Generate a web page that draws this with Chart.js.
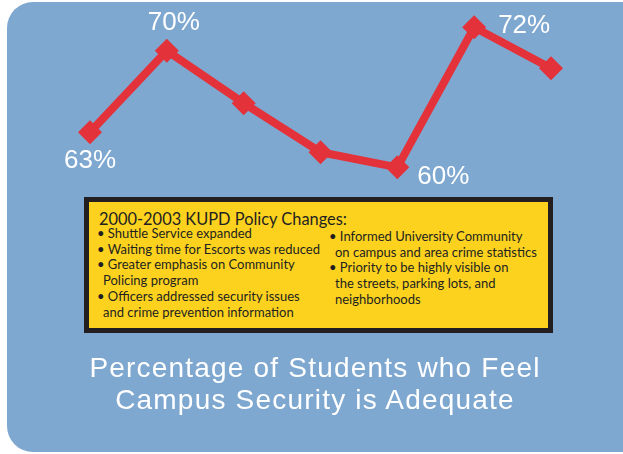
<!DOCTYPE html>
<html>
<head>
<meta charset="utf-8">
<script src="https://cdn.jsdelivr.net/npm/chart.js@4.4.0/dist/chart.umd.min.js"></script>
<style>
  body { margin: 0; background: #fff; }
  #wrap { position: relative; width: 623px; height: 454px; overflow: hidden; }
  #panel { position: absolute; left: 7px; top: 2px; width: 640px; height: 450px; background: #7fa8d0; border-radius: 26px; }
  #grfk { position: absolute; left: 0; top: 0; }
  #box { position: absolute; left: 84px; top: 197px; width: 459px; height: 126px; border: 5px solid #231f20; background: #fcd21f; }
  .col { position: absolute; font-family: Lato, 'Open Sans', sans-serif; color: #231f20; font-size: 13px; line-height: 15.7px; white-space: nowrap; }
  .col .cont { padding-left: 6px; }
  #boxTitle { position: absolute; left: 10px; top: 7px; font-family: Lato, sans-serif; font-size: 16.4px; line-height: 20px; color: #231f20; white-space: nowrap; }
  #title { position: absolute; left: 0; top: 352px; width: 630px; text-align: center; color: #fff; font-family: 'Liberation Sans', Arial, sans-serif; font-size: 28px; line-height: 32px; letter-spacing: 1.2px; }
</style>
</head>
<body>
<div id="wrap">
  <div id="panel"></div>
  <canvas id="grfk" width="623" height="454"></canvas>
  <div id="box">
    <div id="boxTitle">2000-2003 KUPD Policy Changes:</div>
    <div class="col" style="left:8px; top:24px;">
      <div>• Shuttle Service expanded</div>
      <div>• Waiting time for Escorts was reduced</div>
      <div>• Greater emphasis on Community</div>
      <div class="cont">Policing program</div>
      <div>• Officers addressed security issues</div>
      <div class="cont">and crime prevention information</div>
    </div>
    <div class="col" style="left:240px; top:27px;">
      <div>• Informed University Community</div>
      <div class="cont">on campus and area crime statistics</div>
      <div>• Priority to be highly visible on</div>
      <div class="cont">the streets, parking lots, and</div>
      <div class="cont">neighborhoods</div>
    </div>
  </div>
  <div id="title">Percentage of Students who Feel<br>Campus Security is Adequate</div>
</div>
<script>
// survey points, left to right
const years = ['1997', '1998', '1999', '2000', '2001', '2002', '2003'];
const percents = [63, 70, 65.5, 61.3, 60, 72, 68.5];
// only these points get a % label in the picture
const labelled = [0, 1, 4, 5];

// where each % label sits relative to its point
const labelOffsets = {
    0: { dx: 0, dy: 36 },
    1: { dx: 7, dy: -21 },
    4: { dx: 46, dy: 17 },
    5: { dx: 50, dy: 6 }
};

const pctLabels = {
    id: 'pctLabels',
    afterDatasetsDraw(chart) {
        const ctx = chart.ctx;
        const meta = chart.getDatasetMeta(0);
        ctx.save();
        ctx.fillStyle = '#ffffff';
        ctx.font = "26px 'Liberation Sans', Arial, sans-serif";
        ctx.textAlign = 'center';
        ctx.textBaseline = 'alphabetic';
        labelled.forEach(i => {
            const pt = meta.data[i];
            const off = labelOffsets[i];
            ctx.fillText(Math.round(percents[i]) + '%', pt.x + off.dx, pt.y + off.dy);
        });
        ctx.restore();
    }
};

const ct = document.getElementById('grfk').getContext('2d');
new Chart(ct, {
    type: 'line',
    data: {
        labels: years,
        datasets: [{
            data: percents,
            borderColor: '#e3323a',
            backgroundColor: '#e3323a',
            borderWidth: 8,
            tension: 0,
            pointStyle: 'rectRot',
            pointRadius: 12,
            pointBorderWidth: 0,
            pointBackgroundColor: '#e3323a'
        }]
    },
    options: {
        responsive: false,
        animation: false,
        layout: { autoPadding: false, padding: { left: 90, right: 72, top: 4, bottom: 170 } },
        plugins: { legend: { display: false }, tooltip: { enabled: false } },
        scales: {
            x: { display: false, offset: false },
            y: { display: false, min: 50, max: 74 }
        }
    },
    plugins: [pctLabels]
});
</script>
</body>
</html>
